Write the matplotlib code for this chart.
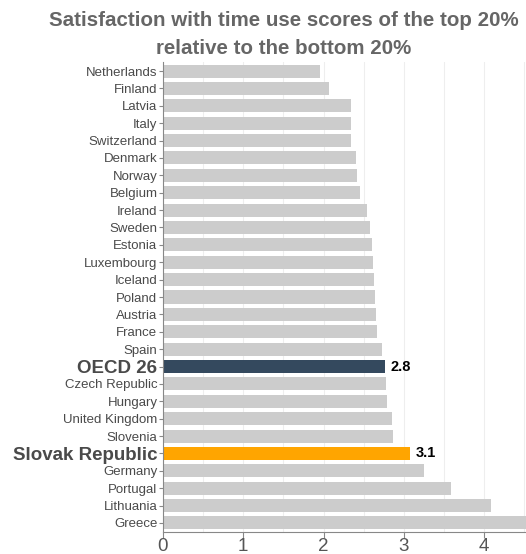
import matplotlib.pyplot as plt
import numpy as np

plt.rcParams['font.family'] = ['Liberation Sans', 'DejaVu Sans']

# Data, top to bottom as in the chart
countries = ['Netherlands', 'Finland', 'Latvia', 'Italy', 'Switzerland', 'Denmark',
             'Norway', 'Belgium', 'Ireland', 'Sweden', 'Estonia', 'Luxembourg',
             'Iceland', 'Poland', 'Austria', 'France', 'Spain', 'OECD 26',
             'Czech Republic', 'Hungary', 'United Kingdom', 'Slovenia',
             'Slovak Republic', 'Germany', 'Portugal', 'Lithuania', 'Greece']
values = [1.95, 2.07, 2.34, 2.34, 2.34, 2.40, 2.42, 2.45, 2.54, 2.58, 2.60, 2.62,
          2.63, 2.64, 2.65, 2.67, 2.73, 2.76, 2.78, 2.79, 2.85, 2.86,
          3.08, 3.25, 3.59, 4.08, 4.60]
highlight = {'OECD 26': '#34495e', 'Slovak Republic': '#ffa500'}
value_labels = {'OECD 26': '2.8', 'Slovak Republic': '3.1'}

fig = plt.figure(figsize=(5.26, 5.54), dpi=100)
ax = fig.add_axes([163 / 526, 22 / 554, 363 / 526, 470 / 554])

y = np.arange(len(countries))
colors = [highlight.get(c, '#cccccc') for c in countries]
ax.barh(y, values, height=0.75, color=colors, zorder=2)

# value labels for highlighted bars
for i, c in enumerate(countries):
    if c in value_labels:
        ax.text(values[i] + 0.07, i, value_labels[c], va='center', ha='left',
                fontsize=10.5, fontweight='bold', color='black')

ax.set_ylim(len(countries) - 0.48, -0.52)
ax.set_xlim(0, 4.52)
ax.set_yticks(y)
ax.set_yticklabels(countries, fontsize=9.5, color='#4a4a4a')
for lbl in ax.get_yticklabels():
    if lbl.get_text() in highlight:
        lbl.set_fontsize(13.5)
        lbl.set_fontweight('bold')

ax.set_xticks([0, 1, 2, 3, 4])
ax.set_xticks(np.arange(0, 4.6, 0.5), minor=True)
ax.tick_params(axis='x', labelsize=13.5, labelcolor='#555555', length=4, color='#888888', pad=0.5)
ax.tick_params(axis='x', which='minor', length=0)
ax.tick_params(axis='y', length=3, color='#888888', pad=1)
ax.grid(axis='x', which='both', color='#eeeeee', linewidth=0.8, zorder=0)

for side in ['top', 'right']:
    ax.spines[side].set_visible(False)
ax.spines['left'].set_color('#888888')
ax.spines['bottom'].set_color('#888888')

fig.text(284 / 526, 1 - 20 / 554, 'Satisfaction with time use scores of the top 20%',
         ha='center', va='center', fontsize=14.8, fontweight='bold', color='#666666')
fig.text(284 / 526, 1 - 48 / 554, 'relative to the bottom 20%',
         ha='center', va='center', fontsize=14.8, fontweight='bold', color='#666666')

fig.savefig('out.png', dpi=100)
